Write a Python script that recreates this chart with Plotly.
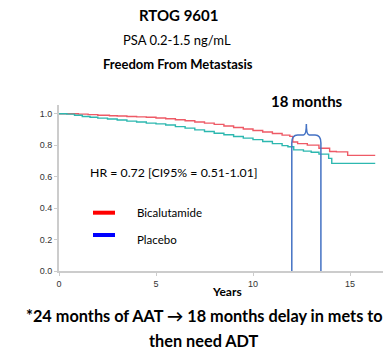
import plotly.graph_objects as go

# ---- data ----
bica_t = [0, 1.0, 1.5, 2.0, 2.6, 3.0, 3.5, 4.0, 4.5, 5.0, 5.5, 6.0, 6.5, 7.0, 7.5, 8.0,
          8.5, 9.0, 9.5, 10.0, 10.5, 11.0, 11.5, 11.9, 12.05, 12.3, 12.8, 13.4, 13.95,
          14.3, 14.88, 16.3]
bica_v = [1.0, 0.997, 0.994, 0.99, 0.987, 0.985, 0.982, 0.98, 0.977, 0.973, 0.968, 0.962,
          0.955, 0.947, 0.940, 0.932, 0.922, 0.912, 0.903, 0.893, 0.884, 0.874, 0.864,
          0.856, 0.82, 0.81, 0.80, 0.78, 0.76, 0.757, 0.735, 0.735]
plac_t = [0, 0.4, 0.8, 1.2, 1.6, 2.0, 2.5, 3.0, 3.5, 4.0, 4.5, 5.0, 5.5, 6.0, 6.5, 7.0,
          7.5, 8.0, 8.5, 9.0, 9.5, 10.0, 10.5, 11.0, 11.5, 11.8, 12.1, 12.6, 13.0, 13.4,
          13.9, 14.06, 16.3]
plac_v = [1.0, 0.997, 0.99, 0.982, 0.977, 0.972, 0.966, 0.96, 0.953, 0.947, 0.94, 0.935,
          0.928, 0.918, 0.908, 0.897, 0.887, 0.876, 0.866, 0.855, 0.845, 0.835, 0.823,
          0.81, 0.797, 0.79, 0.77, 0.762, 0.755, 0.743, 0.716, 0.684, 0.684]
x_ticks = [0, 5, 10, 15]
y_ticks = [0.0, 0.2, 0.4, 0.6, 0.8, 1.0]
delay_start = 12.0
delay_years = 1.5
brace_low, brace_mid, brace_peak = 0.814, 0.865, 0.934

W, H = 391, 353
ML, MR, MT, MB = 59, 8, 105, 82
PW, PH = W - ML - MR, H - MT - MB


def px(x):
    return (x - ML) / PW


def py(y):
    return (H - MB - y) / PH


fig = go.Figure()
fig.add_trace(go.Scatter(x=bica_t, y=bica_v, mode="lines", line_shape="hv",
                         line=dict(color="#EE5A66", width=1.4), showlegend=False))
fig.add_trace(go.Scatter(x=plac_t, y=plac_v, mode="lines", line_shape="hv",
                         line=dict(color="#2DB8B0", width=1.4), showlegend=False))

a = delay_start
b = delay_start + delay_years
m = (a + b) / 2
path = (f"M {a},0 L {a},{brace_low} Q {a},{brace_mid} {a+0.3},{brace_mid} "
        f"L {m-0.15},{brace_mid} Q {m},{brace_mid} {m},{brace_peak} "
        f"Q {m},{brace_mid} {m+0.15},{brace_mid} L {b-0.3},{brace_mid} "
        f"Q {b},{brace_mid} {b},{brace_low} L {b},0")
fig.add_shape(type="path", path=path, xref="x", yref="y",
              line=dict(color="#4472C4", width=1.5))

# legend bars
fig.add_shape(type="line", xref="paper", yref="paper", x0=px(93), x1=px(115),
              y0=py(212.7), y1=py(212.7), line=dict(color="#FF0000", width=4))
fig.add_shape(type="line", xref="paper", yref="paper", x0=px(93), x1=px(115),
              y0=py(235), y1=py(235), line=dict(color="#0000FF", width=4))

FONT = "Lato"


def ann(text, x, y, size, bold=False, anchor="center", color="#000000"):
    t = f"<b>{text}</b>" if bold else text
    fig.add_annotation(text=t, x=px(x), y=py(y), xref="paper", yref="paper",
                       xanchor=anchor, yanchor="middle", showarrow=False,
                       font=dict(family=FONT, size=size, color=color))


ann("RTOG 9601", 178, 15, 15, bold=True)
ann("PSA 0.2-1.5 ng/mL", 177, 40, 13)
ann("Freedom From Metastasis", 178, 64, 13, bold=True)
ann("18 months", 307, 101, 15, bold=True)
ann("HR = 0.72 [CI95% = 0.51-1.01]", 88, 172, 12.3, anchor="left")
ann("Bicalutamide", 135, 212, 11.5, anchor="left")
ann("Placebo", 135, 239, 11.5, anchor="left")
ann("Years", 227, 291, 12, bold=True)
ann("*24 months of AAT → 18 months delay in mets to", 204, 315, 16.3, bold=True)
ann("then need ADT", 204, 340, 16.3, bold=True)

fig.update_layout(
    width=W, height=H, margin=dict(l=ML, r=MR, t=MT, b=MB),
    paper_bgcolor="white", plot_bgcolor="white",
    xaxis=dict(range=[0, PW / 19.4], tickvals=x_ticks, showgrid=False, zeroline=False,
               showline=True, linecolor="#CCCCCC", linewidth=2, ticks="outside",
               ticklen=3, tickcolor="#CCCCCC",
               tickfont=dict(family="Liberation Sans", size=9, color="#333333")),
    yaxis=dict(range=[0, PH / 157.3], tickvals=y_ticks, tickformat=".1f", showgrid=False,
               zeroline=False, showline=True, linecolor="#CCCCCC", linewidth=2,
               ticks="outside", ticklen=3, tickcolor="#CCCCCC",
               tickfont=dict(family="Liberation Sans", size=9, color="#333333")),
)
fig.write_html("out.html")
